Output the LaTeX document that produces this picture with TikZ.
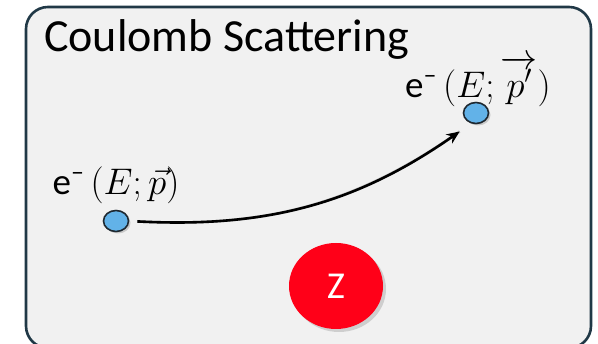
\RequirePackage{fix-cm}
\documentclass[tikz,border=0pt]{standalone}
\usepackage{amsmath}
\usepackage{fontspec}
\setmainfont{Carlito}
\usepackage{tikz}
\usetikzlibrary{positioning}
\usetikzlibrary{arrows.meta}
\usetikzlibrary{shapes.geometric}
\usetikzlibrary{shadows}

\definecolor{frameline}{RGB}{32,56,70}
\definecolor{framefill}{RGB}{241,241,241}
\definecolor{electronfill}{RGB}{98,178,232}
\definecolor{electronline}{RGB}{30,40,48}
\definecolor{nucleusred}{RGB}{255,0,24}

\tikzset{
    electron/.style={ellipse, draw=electronline, line width=1.6pt, fill=electronfill,
        minimum width=25pt, minimum height=21pt, inner sep=0pt,
        drop shadow={opacity=0.35, shadow xshift=2pt, shadow yshift=-2pt}},
    nucleus/.style={ellipse, fill=nucleusred, minimum width=94pt, minimum height=86pt,
        inner sep=0pt, text=white, font=\fontsize{38}{40}\selectfont,
        drop shadow={opacity=0.3, shadow xshift=3pt, shadow yshift=-3pt}},
    label/.style={font=\fontsize{37}{40}\selectfont, inner sep=0pt},
    track/.style={line width=2.6pt, shorten <=8pt, shorten >=14pt}
}

\begin{document}
\begin{tikzpicture}[x=1pt, y=1pt]
        \useasboundingbox (0,0) rectangle (598,344);
        \draw[frameline, line width=2.6pt, fill=framefill, rounded corners=22pt]
            (26,-4) rectangle (591,337);

        \node(title) [anchor=base west, font=\fontsize{46}{50}\selectfont, inner sep=0pt]
            at (44,292) {Coulomb Scattering};

        \node(e1) [electron] at (116,123) {};
        \node(e2) [electron] at (476,231) {};
        \node(Z) [nucleus] at (336,58) {Z};

        \node(l1) [label, above=6pt of e1] {e\textsuperscript{–}\,$(E;\vec{p})$};
        \node(l2) [label, above=-5pt of e2, xshift=2pt] {e\textsuperscript{–}\,$(E;\overrightarrow{p'})$};

        % shadow of the track
        \draw[track, black!25, xshift=2pt, yshift=-2pt]
            (e1.east) to[out=-3, in=215] (e2.245);
        \draw[track, -{Stealth[length=13pt, width=11pt]}]
            (e1.east) to[out=-3, in=215] (e2.245);
    \end{tikzpicture}
\end{document}
